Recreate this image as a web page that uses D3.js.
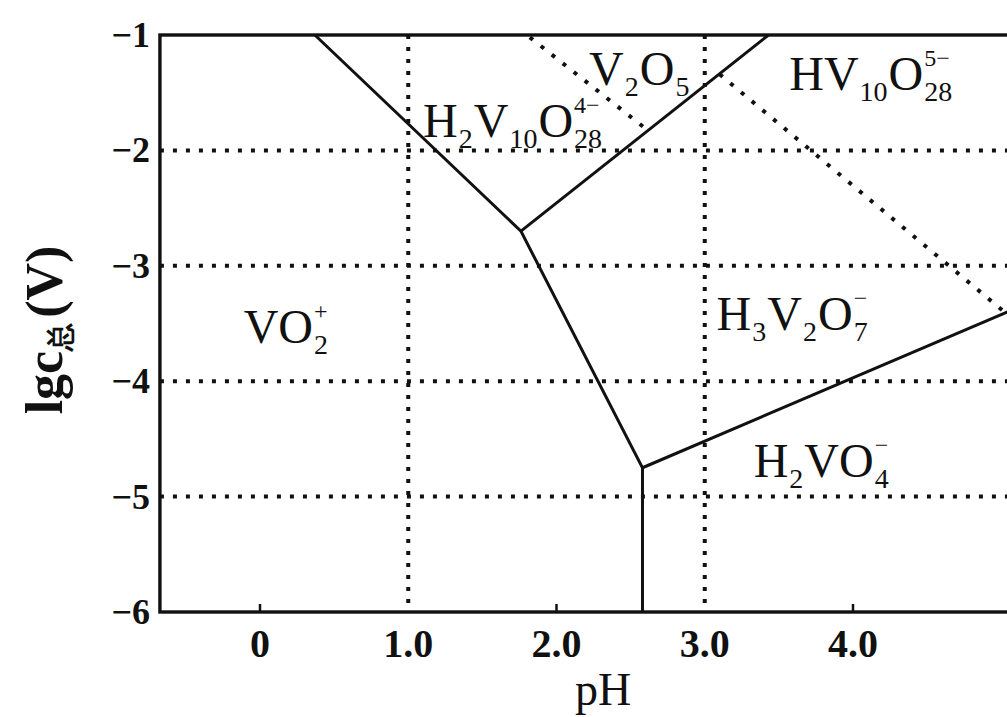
<!DOCTYPE html>
<html lang="en">
<head>
<meta charset="utf-8">
<title>Vanadium species vs pH</title>
<script src="https://d3js.org/d3.v7.min.js"></script>
<style>
  body { margin: 0; background: #fff; }
  text { font-family: "Liberation Serif", "DejaVu Serif", serif; fill: #111; }
</style>
</head>
<body>
<script>
// ---- data ----
var xTicks = [0, 1, 2, 3, 4];
var xTickLabels = ["0", "1.0", "2.0", "3.0", "4.0"];
var yTicks = [-1, -2, -3, -4, -5, -6];
var yTickLabels = ["\u22121", "\u22122", "\u22123", "\u22124", "\u22125", "\u22126"];
var hGrid = [-2, -3, -4, -5];
var vGrid = [1, 3];
var smallTicks = [0, 2, 4];

// solid phase boundaries [pH, lgc]
var solidLines = [
  [[0.37, -1], [1.76, -2.7], [2.58, -4.75], [2.58, -6]],
  [[1.76, -2.7], [3.43, -1]],
  [[2.58, -4.75], [5.06, -3.39]]
];
// dotted boundaries
var dottedLines = [
  [[1.82, -1.02], [2.61, -1.82]],
  [[3.1, -1.34], [5.03, -3.41]]
];

// species labels: tokens, baseline start in data coords
var species = [
  {at: [-0.11, -3.67], tokens: [{t: "VO"}, {sub: "2", sup: "+"}]},
  {at: [1.10, -1.88], tokens: [{t: "H"}, {sub: "2"}, {t: "V"}, {sub: "10"}, {t: "O"}, {sub: "28", sup: "4\u2212"}]},
  {at: [2.22, -1.43], tokens: [{t: "V"}, {sub: "2"}, {t: "O"}, {sub: "5"}]},
  {at: [3.57, -1.48], tokens: [{t: "HV"}, {sub: "10"}, {t: "O"}, {sub: "28", sup: "5\u2212"}]},
  {at: [3.08, -3.56], tokens: [{t: "H"}, {sub: "3"}, {t: "V"}, {sub: "2"}, {t: "O"}, {sub: "7", sup: "\u2212"}]},
  {at: [3.33, -4.83], tokens: [{t: "H"}, {sub: "2"}, {t: "VO"}, {sub: "4", sup: "\u2212"}]}
];

var xMin = -0.675, xMax = 5.07;

var W = 1007, H = 717;
var x = d3.scaleLinear().domain([0, 4]).range([260, 853]);
var y = d3.scaleLinear().domain([-1, -6]).range([35, 612]);

var svg = d3.select("body").append("svg")
  .attr("width", W).attr("height", H);

// grid (dotted)
svg.selectAll(".hgrid").data(hGrid).enter().append("line")
  .attr("x1", x(xMin)).attr("x2", x(xMax))
  .attr("y1", function(d) { return y(d); }).attr("y2", function(d) { return y(d); })
  .attr("stroke", "#111").attr("stroke-width", 4).attr("stroke-dasharray", "4 9");

svg.selectAll(".vgrid").data(vGrid).enter().append("line")
  .attr("x1", function(d) { return x(d); }).attr("x2", function(d) { return x(d); })
  .attr("y1", y(-1)).attr("y2", y(-6))
  .attr("stroke", "#111").attr("stroke-width", 4).attr("stroke-dasharray", "4 8");

var line = d3.line().x(function(d) { return x(d[0]); }).y(function(d) { return y(d[1]); });

svg.selectAll(".dotted").data(dottedLines).enter().append("path")
  .attr("d", line).attr("fill", "none")
  .attr("stroke", "#111").attr("stroke-width", 4).attr("stroke-dasharray", "4 10");

svg.selectAll(".solid").data(solidLines).enter().append("path")
  .attr("d", line).attr("fill", "none")
  .attr("stroke", "#111").attr("stroke-width", 3).attr("stroke-linejoin", "miter");

// small inward ticks at bottom
svg.selectAll(".tick").data(smallTicks).enter().append("line")
  .attr("x1", function(d) { return x(d); }).attr("x2", function(d) { return x(d); })
  .attr("y1", y(-6)).attr("y2", y(-6) - 8)
  .attr("stroke", "#111").attr("stroke-width", 2.5);

// frame
svg.append("rect")
  .attr("x", x(xMin)).attr("y", y(-1))
  .attr("width", x(xMax) - x(xMin)).attr("height", y(-6) - y(-1))
  .attr("fill", "none").attr("stroke", "#111").attr("stroke-width", 3.4);

// tick labels
svg.selectAll(".xlab").data(xTicks).enter().append("text")
  .attr("x", function(d) { return x(d); }).attr("y", 657)
  .attr("text-anchor", "middle").attr("font-size", 40).attr("font-weight", "bold")
  .text(function(d, i) { return xTickLabels[i]; });

svg.selectAll(".ylab").data(yTicks).enter().append("text")
  .attr("x", 150).attr("y", function(d) { return y(d) + 12; })
  .attr("text-anchor", "end").attr("font-size", 36).attr("font-weight", "bold")
  .text(function(d, i) { return yTickLabels[i]; });

// axis titles
svg.append("text").attr("x", 603).attr("y", 705)
  .attr("text-anchor", "middle").attr("font-size", 46).text("pH");

var yt = svg.append("text")
  .attr("transform", "translate(62,330) rotate(-90)")
  .attr("text-anchor", "middle").attr("font-size", 52).attr("font-weight", "bold");
yt.append("tspan").text("lgc");
yt.append("tspan").attr("dy", 8).attr("font-size", 28).text("\u603b");
yt.append("tspan").attr("dy", -8).attr("dx", 5).text("(V)");

// species labels built from tokens
var mainSize = 48, subSize = 28;
species.forEach(function(s) {
  var g = svg.append("g").attr("transform", "translate(" + x(s.at[0]) + "," + y(s.at[1]) + ")");
  var cx = 0;
  s.tokens.forEach(function(tk) {
    if (tk.t) {
      var t = g.append("text").attr("x", cx).attr("y", 0).attr("font-size", mainSize).text(tk.t);
      cx += t.node().getComputedTextLength();
    } else {
      var w = 0;
      if (tk.sub) {
        var a = g.append("text").attr("x", cx + 1).attr("y", 11).attr("font-size", subSize).text(tk.sub);
        w = a.node().getComputedTextLength();
      }
      if (tk.sup) {
        var b = g.append("text").attr("x", cx + 1).attr("y", -24).attr("font-size", subSize - 4).text(tk.sup);
        w = Math.max(w, b.node().getComputedTextLength());
      }
      cx += w + 2;
    }
  });
});
</script>
</body>
</html>
